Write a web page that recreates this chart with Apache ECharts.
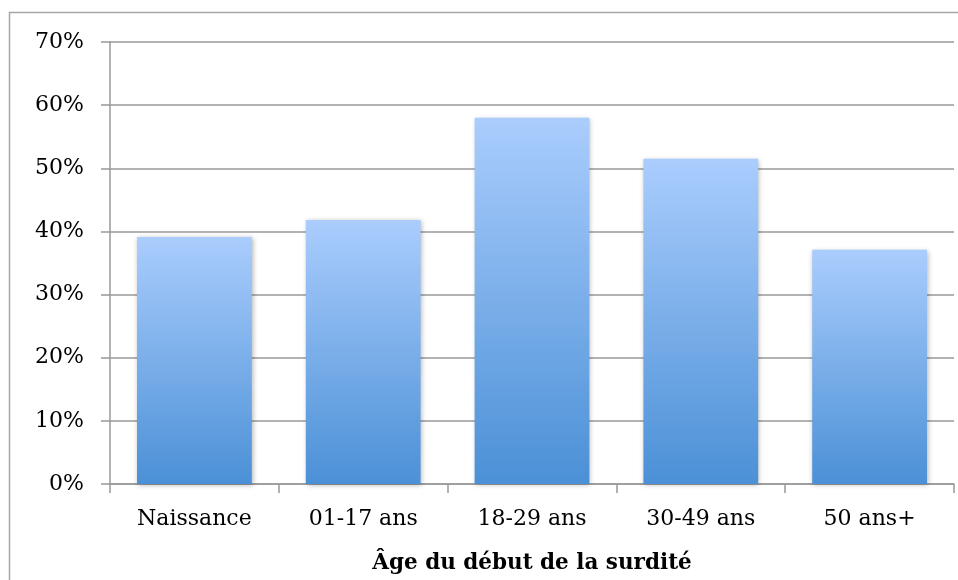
<!DOCTYPE html>
<html>
<head>
<meta charset="utf-8">
<script src="https://cdn.jsdelivr.net/npm/echarts@6/dist/echarts.min.js"></script>
<style>
  html, body { margin: 0; padding: 0; background: #fff; }
  #chart { width: 958px; height: 580px; }
</style>
</head>
<body>
<div id="chart"></div>
<script>
const categories = ['Naissance', '01-17 ans', '18-29 ans', '30-49 ans', '50 ans+'];
const values = [39.1, 41.8, 58.0, 51.5, 37.1];
const axisTitle = 'Âge du début de la surdité';

const chart = echarts.init(document.getElementById('chart'));
const font = 'DejaVu Serif';

chart.setOption({
    animation: false,
    graphic: [
        {
            type: 'polyline',
            shape: { points: [[9.5, 580], [9.5, 12.5], [958, 12.5]] },
            style: { stroke: '#a6a6a6', lineWidth: 1.5, fill: null }
        }
    ],
    grid: { left: 110, right: 4, top: 42, bottom: 96 },
    xAxis: {
        type: 'category',
        data: categories,
        name: axisTitle,
        nameLocation: 'middle',
        nameGap: 68,
        nameTextStyle: { fontFamily: font, fontSize: 21.5, fontWeight: 'bold', color: '#000' },
        axisLine: { lineStyle: { color: '#999', width: 1.5 } },
        axisTick: { show: true, length: 9, lineStyle: { color: '#999', width: 1.5 } },
        axisLabel: { fontFamily: font, fontSize: 22, color: '#000', margin: 24 }
    },
    yAxis: {
        type: 'value',
        min: 0,
        max: 70,
        interval: 10,
        axisLine: { show: true, lineStyle: { color: '#999', width: 1.5 } },
        axisTick: { show: true, length: 9, lineStyle: { color: '#999', width: 1.5 } },
        splitLine: { lineStyle: { color: '#999', width: 1.5 } },
        axisLabel: { fontFamily: font, fontSize: 22, color: '#000', margin: 26, formatter: '{value}%' }
    },
    series: [
        {
            type: 'bar',
            data: values,
            barCategoryGap: '32%',
            itemStyle: {
                color: new echarts.graphic.LinearGradient(0, 0, 0, 1, [
                    { offset: 0, color: '#aacdfd' },
                    { offset: 1, color: '#4b90d6' }
                ]),
                shadowBlur: 5,
                shadowColor: 'rgba(0,0,0,0.3)',
                shadowOffsetX: 1,
                shadowOffsetY: 1
            }
        }
    ]
});
</script>
</body>
</html>
